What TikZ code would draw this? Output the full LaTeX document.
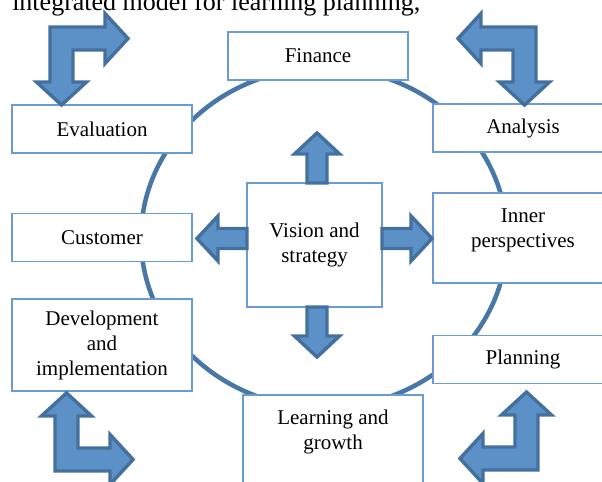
\documentclass[tikz,border=0pt]{standalone}
\usepackage{fontspec}
\setmainfont{Liberation Serif}
\usetikzlibrary{positioning}

\definecolor{arrowfill}{RGB}{92,145,200}
\definecolor{arrowline}{RGB}{68,112,158}
\definecolor{ringline}{RGB}{72,118,166}
\definecolor{boxline}{RGB}{108,155,210}

\tikzset{
  blockarrow/.style={fill=arrowfill,draw=arrowline,line width=2.6pt,line join=miter},
  bent arrow/.pic={
    \draw[blockarrow] (0,0) -- (55,0) -- (55,-13.5) -- (78,11.5) -- (55,36.5) -- (55,23)
      -- (23,23) -- (23,55) -- (36.5,55) -- (11.5,78) -- (-13.5,55) -- (0,55) -- cycle;},
  straight arrow/.pic={
    \draw[blockarrow] (0,-10) -- (29,-10) -- (29,-22.5) -- (50,0) -- (29,22.5) -- (29,10)
      -- (0,10) -- cycle;}
}

\begin{document}
\begin{tikzpicture}[x=0.75pt,y=-0.75pt,
  font=\fontsize{15.75}{18.75}\selectfont,
  box/.style={draw=boxline,fill=white,line width=1.1pt,align=center,inner sep=0pt,
    minimum width=135pt,minimum height=36pt},
  ring/.style={draw=ringline,line width=3.4pt}]

  \useasboundingbox (0,0) rectangle (602,481);

  % caption line cut off by the top edge
  \node[anchor=base west,inner sep=0pt,font=\fontsize{19.5}{23}\selectfont] (caption)
    at (12,11) {integrated model for learning planning,};

  \draw[ring] (324,238) ellipse [x radius=137.25pt,y radius=127.5pt];

  \node[box] (finance) at (318,56) {Finance};
  \node[box] (evaluation) at (102,129) {Evaluation};
  \node[box] (analysis) at (523,128) {Analysis};
  \node[box] (customer) at (102,237.5) {Customer};
  \node[box,minimum height=67.5pt] (inner) at (523,238) {};
  \node[align=center] (innertext) at (523,230) {Inner\\perspectives};
  \node[box,minimum height=69pt] (development) at (102,345) {Development\\and\\implementation};
  \node[box] (planning) at (523,359.5) {Planning};
  \node[box,minimum height=75pt] (learning) at (333,445) {};
  \node[align=center] (learningtext) at (333,432) {Learning and\\growth};
  \node[box,minimum width=101.25pt,minimum height=93pt] (vision) at (314.5,245) {Vision and\\strategy};

  % arrows out of the centre box
  \pic[rotate=90] at (317,183) {straight arrow};
  \pic[rotate=-90] at (317,307) {straight arrow};
  \pic[rotate=180] at (247,238.5) {straight arrow};
  \pic at (382,238.5) {straight arrow};

  % corner arrows
  \pic at (50,27) {bent arrow};
  \pic[xscale=-1] at (536,27) {bent arrow};
  \pic[yscale=-1] at (55,471) {bent arrow};
  \pic[xscale=-1,yscale=-1] at (538,470) {bent arrow};
\end{tikzpicture}
\end{document}
